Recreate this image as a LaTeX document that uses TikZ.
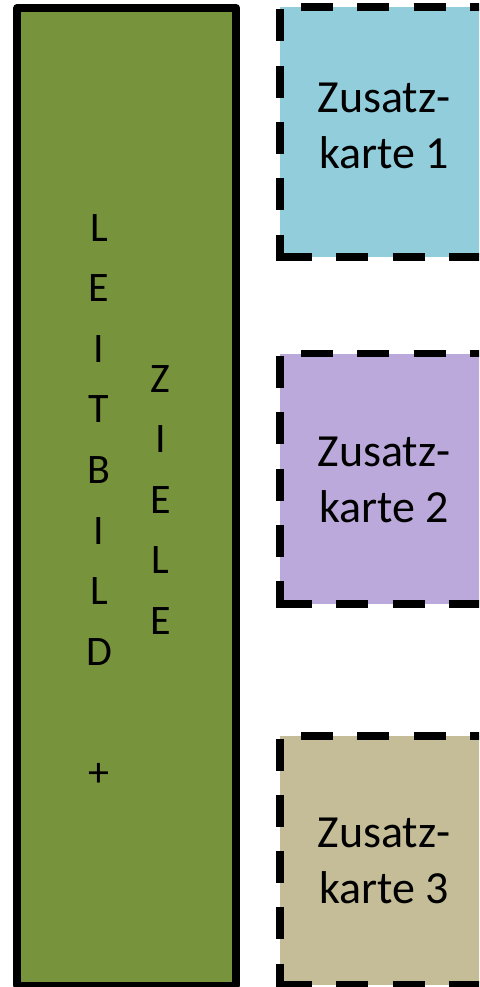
\documentclass[tikz,border=0pt]{standalone}
\usepackage{fontspec}
\setmainfont{Carlito}
\definecolor{leitgreen}{HTML}{77933C}
\definecolor{kblue}{HTML}{92CDDC}
\definecolor{kpurple}{HTML}{BCA9DB}
\definecolor{kbeige}{HTML}{C4BD97}
\begin{document}
\begin{tikzpicture}[x=1pt,y=-1pt,
  cardfill/.style={inner sep=0pt, outer sep=0pt, draw=none, anchor=north west, minimum width=208pt},
  dashline/.style={line width=7.7pt, dash pattern=on 32pt off 24.3pt, line cap=butt},
  cardtext/.style={inner sep=0pt, outer sep=0pt, anchor=north, align=center, font=\fontsize{46}{56}\selectfont},
  lettertext/.style={inner sep=0pt, outer sep=0pt, anchor=north, align=center, font=\fontsize{42}{60.6}\selectfont}]
\useasboundingbox (0,0) rectangle (479,987);
\clip (0,0) rectangle (479,987);

% green column
\node[draw=black, line width=7.7pt, line join=round, fill=leitgreen, inner sep=0pt, outer sep=0pt,
      anchor=north west, minimum width=219.1pt, minimum height=977.8pt] (leit) at (17.2,7.8) {};

% cards
\node[cardfill, fill=kblue,   minimum height=250pt]   (card1) at (280,7) {};
\node[cardfill, fill=kpurple, minimum height=250.5pt] (card2) at (280,353.5) {};
\node[cardfill, fill=kbeige,  minimum height=249pt]   (card3) at (280,736) {};

% dashed borders
\foreach \c in {card1,card2,card3}{
  \draw[dashline] ([yshift=-2.5pt]\c.north west) -- ([yshift=-3.85pt]\c.south west);
  \draw[dashline] (\c.south west) -- (\c.south east);
  \draw[dashline] ([xshift=21pt]\c.north west) -- (\c.north east);
}

% card texts
\node[cardtext] (t1) at (384,82.9) {Zusatz-\\karte 1};
\node[cardtext] (t2) at (384,436.9) {Zusatz-\\karte 2};
\node[cardtext] (t3) at (384,817.9) {Zusatz-\\karte 3};

% vertical letters
\node[lettertext] (leitbild) at (99,214.2) {L\\E\\I\\T\\B\\I\\L\\D\\[60.6pt]+};
\node[lettertext] (ziele) at (160.5,365.2) {Z\\I\\E\\L\\E};
\end{tikzpicture}
\end{document}
